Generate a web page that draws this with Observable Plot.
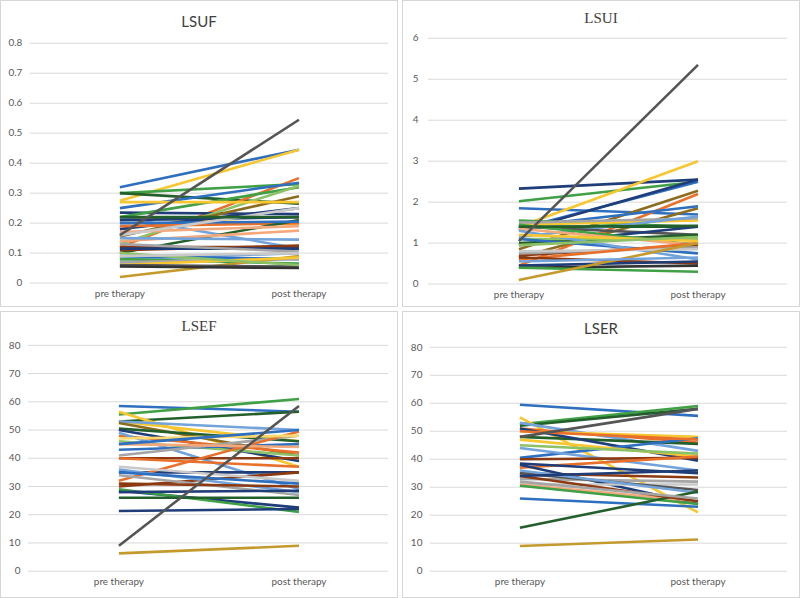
<!DOCTYPE html>
<html>
<head>
<meta charset="utf-8">
<script src="https://cdn.jsdelivr.net/npm/d3@7"></script>
<script src="https://cdn.jsdelivr.net/npm/@observablehq/plot@0.6"></script>
<style>
  html, body { margin: 0; padding: 0; background: #fff; }
  #root { position: relative; width: 800px; height: 598px; overflow: hidden; background: #fff; }
  .panel { position: absolute; box-sizing: border-box; border: 1px solid #d6d6d6; background: #fff; }
  .panel svg { position: absolute; left: -1px; top: -1px; }
  .title { position: absolute; left: 0; right: 0; text-align: center; font-size: 15px; color: #404040; z-index: 2; }
</style>
</head>
<body>
<div id="root"></div>
<script>
const categories = ["pre therapy", "post therapy"];

const palette = {
  blue: "#2e6fc0", dblue: "#1f3d78", lblue: "#72a3da",
  orange: "#e8702a", lorange: "#f3a97c",
  gray: "#a5a5a5", lgray: "#c9c9c9", dgray: "#555555", black: "#333333",
  yellow: "#f8c630", lyellow: "#fbd96e",
  green: "#3fa046", lgreen: "#8cc168", dgreen: "#235f2b",
  brown: "#8b3a12", olive: "#8c6d1f", gold: "#c49a2c"
};

// LSUF
const lsufPre  = [0.32,0.275,0.30,0.30,0.12,0.25,0.235,0.22,0.13,0.155,0.27,0.22,0.18,0.22,0.19,0.10,0.14,0.15,0.11,0.12,0.115,0.13,0.08,0.09,0.08,0.07,0.02,0.06,0.06,0.055,0.10,0.09,0.20,0.21,0.17,0.16,0.22,0.16];
const lsufPost = [0.445,0.445,0.33,0.265,0.35,0.335,0.23,0.32,0.325,0.29,0.27,0.195,0.25,0.115,0.20,0.21,0.175,0.145,0.125,0.12,0.115,0.105,0.10,0.08,0.065,0.08,0.09,0.085,0.055,0.05,0.06,0.10,0.205,0.22,0.19,0.25,0.22,0.545];
const lsufColor = ["blue","yellow","green","dgreen","orange","blue","dblue","green","lgreen","olive","yellow","yellow","dblue","lblue","orange","dgreen","lorange","lblue","brown","brown","dblue","gray","lblue","blue","green","gray","gold","yellow","dgray","black","lgreen","lgray","blue","dblue","lorange","lgray","dgreen","dgray"];
const lsufTicks = [0,0.1,0.2,0.3,0.4,0.5,0.6,0.7,0.8];

// LSUI
const lsuiPre  = [2.33,2.02,1.85,1.4,1.35,1.3,0.85,0.45,0.65,1.4,1.55,1.4,1.45,1.5,1.15,1.4,0.95,1.0,1.45,1.35,0.7,1.1,1.1,1.3,0.75,0.8,0.6,0.65,0.45,0.4,0.4,0.1,0.55,1.2,0.95,1.4,1.05];
const lsuiPost = [2.55,2.5,1.7,3.0,2.5,2.55,2.28,2.2,1.85,1.9,1.4,1.4,1.55,1.6,1.65,1.2,1.4,1.2,0.95,0.95,0.95,1.1,0.75,0.6,0.9,0.85,1.0,0.5,0.55,0.45,0.3,1.0,0.65,1.05,1.15,1.42,5.35];
const lsuiColor = ["dblue","green","blue","yellow","blue","dblue","olive","orange","olive","blue","green","dgreen","yellow","gray","lblue","dgray","dblue","dgreen","green","lorange","brown","lgreen","blue","lblue","gray","lgray","orange","brown","dblue","black","green","gold","lblue","yellow","lgreen","dgreen","dgray"];
const lsuiTicks = [0,1,2,3,4,5,6];

// LSEF
const lsefPre  = [58.5,55.5,53,56.5,53,53,52.5,50.5,50,46,48,49,43,41,35,40,40,32,30,37,36,34,35,28.5,29,26,21.3,47,45,28,31,45,6.3,9];
const lsefPost = [56.5,61,56.5,37,46,50,41,46,39,41,42,29,45,48,35,40,37,49.5,35,32,28,27,31,22.5,21,26,22,48,44,28.5,30,50,9,58.5];
const lsefColor = ["blue","green","dgreen","yellow","yellow","lblue","olive","dgreen","dblue","lgreen","orange","lblue","blue","gray","dblue","brown","orange","orange","brown","lgray","lblue","gray","blue","dblue","green","dgreen","dblue","lyellow","lorange","dblue","brown","blue","gold","dgray"];
const lsefTicks = [0,10,20,30,40,50,60,70,80];

// LSER
const lserPre  = [59.5,52.5,52,55,51,53,50,48,51,40.5,47,45,44,40,37,38.5,35,38,33,31,35,36,31,30.5,26,15.5,9,34,34,32,50,48];
const lserPost = [55.5,59,58,21,46,43,48,45.5,39.5,47.5,41,42,36,40.5,41,35,33.5,24,32,31,29,28,25,24,23,28.5,11.3,25,36,26,47,58];
const lserColor = ["blue","green","dgreen","yellow","orange","lblue","yellow","dgreen","dblue","blue","yellow","lgreen","lblue","brown","orange","dblue","brown","dblue","gray","lgray","dgray","lblue","lorange","green","blue","dgreen","gold","brown","dblue","gray","orange","dgray"];
const lserTicks = [0,10,20,30,40,50,60,70,80];

function toRows(pre, post, colors) {
  const rows = [];
  pre.forEach((v, i) => {
    rows.push({id: i, t: categories[0], v, c: palette[colors[i]]});
    rows.push({id: i, t: categories[1], v: post[i], c: palette[colors[i]]});
  });
  return rows;
}

const font = "Lato, 'Liberation Sans', sans-serif";

function panel(cfg) {
  const root = document.getElementById("root");
  const div = document.createElement("div");
  div.className = "panel";
  Object.assign(div.style, {left: cfg.left + "px", top: cfg.top + "px", width: cfg.w + "px", height: cfg.h + "px"});
  const t = document.createElement("div");
  t.className = "title";
  t.textContent = cfg.title;
  t.style.top = cfg.titleTop + "px";
  t.style.fontFamily = cfg.serif ? "'Liberation Serif', serif" : font;
  div.appendChild(t);
  const ticks = cfg.ticks;
  const chart = Plot.plot({
    width: cfg.w, height: cfg.h,
    marginLeft: cfg.ml, marginRight: cfg.mr, marginTop: cfg.mt, marginBottom: cfg.mb,
    style: {fontFamily: font, fontSize: "10px", color: "#595959", background: "transparent"},
    x: {type: "point", domain: categories, padding: 0.5},
    y: {domain: [ticks[0], ticks[ticks.length - 1]]},
    color: {type: "identity"},
    marks: [
      Plot.ruleY(ticks, {stroke: "#d9d9d9", strokeWidth: 1}),
      Plot.axisY(ticks, {tickSize: 0, tickPadding: cfg.tp, tickFormat: d => String(Math.round(d * 10) / 10), label: null, fill: "#595959"}),
      Plot.axisX({tickSize: 0, tickPadding: cfg.xp, label: null, fill: "#595959"}),
      Plot.line(toRows(cfg.pre, cfg.post, cfg.colors), {x: "t", y: "v", z: "id", stroke: "c", strokeWidth: 2.6, strokeLinecap: "butt"})
    ]
  });
  div.appendChild(chart);
  root.appendChild(div);
}

panel({title: "LSUF", serif: false, left: 0, top: 0, w: 398, h: 307, titleTop: 11,
  ml: 30, mr: 8, mt: 43, mb: 23, tp: 8, xp: 7,
  pre: lsufPre, post: lsufPost, colors: lsufColor, ticks: lsufTicks});
panel({title: "LSUI", serif: true, left: 402, top: 0, w: 398, h: 307, titleTop: 9,
  ml: 26, mr: 11, mt: 38, mb: 22, tp: 10, xp: 7,
  pre: lsuiPre, post: lsuiPost, colors: lsuiColor, ticks: lsuiTicks});
panel({title: "LSEF", serif: true, left: 0, top: 311, w: 398, h: 287, titleTop: 6,
  ml: 28, mr: 8, mt: 34, mb: 26, tp: 8, xp: 7,
  pre: lsefPre, post: lsefPost, colors: lsefColor, ticks: lsefTicks});
panel({title: "LSER", serif: false, left: 402, top: 311, w: 398, h: 287, titleTop: 7,
  ml: 28, mr: 11, mt: 36, mb: 26, tp: 8, xp: 7,
  pre: lserPre, post: lserPost, colors: lserColor, ticks: lserTicks});
</script>
</body>
</html>
